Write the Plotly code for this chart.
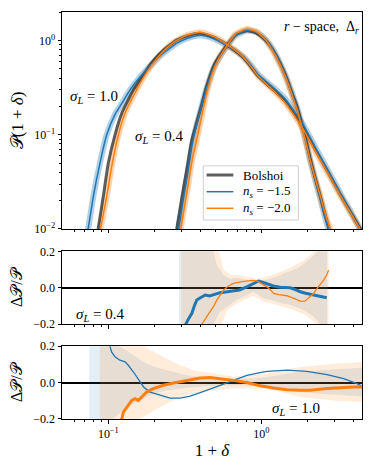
import plotly.graph_objects as go
from plotly.subplots import make_subplots

BLUE = '#1f77b4'
ORANGE = '#ff7f0e'
BOLSHOI = 'rgba(40,40,40,0.75)'
FONT = 'Liberation Serif'

# ---------------- top panel: P(1+delta) ----------------
# sigma_L = 1.0
x10_bol = [0.084, 0.086, 0.0927, 0.1, 0.1106, 0.1225, 0.146, 0.161, 0.178, 0.19, 0.218, 0.25, 0.2805,
           0.33, 0.399, 0.48, 0.596, 0.75, 0.826, 0.96, 1.2, 1.436, 1.65, 1.892, 2.3, 2.76, 3.3, 3.9, 4.6]
p10_bol = [0.0085, 0.0103, 0.0222, 0.0501, 0.100, 0.170, 0.300, 0.383, 0.49, 0.57, 0.735, 0.89, 1.016,
           1.13, 1.198, 1.10, 0.90, 0.68, 0.57, 0.415, 0.30, 0.225, 0.165, 0.118, 0.066, 0.039, 0.023,
           0.0145, 0.0091]

x10_n15 = [0.072, 0.074, 0.0798, 0.0882, 0.0976, 0.1106, 0.1225, 0.1387, 0.161, 0.19, 0.218, 0.25, 0.2805,
           0.33, 0.399, 0.48, 0.596, 0.75, 0.826, 0.96, 1.2, 1.436, 1.65, 1.892, 2.3, 2.76, 3.3, 3.9, 4.6]
p10_n15 = [0.0085, 0.0103, 0.0222, 0.0501, 0.100, 0.165, 0.215, 0.30, 0.41, 0.55, 0.69, 0.82, 0.94,
           1.06, 1.14, 1.06, 0.887, 0.69, 0.59, 0.434, 0.318, 0.24, 0.176, 0.1255, 0.0696, 0.0408, 0.0237,
           0.01465, 0.00896]

x10_n20 = [0.087, 0.0892, 0.0976, 0.1062, 0.1164, 0.1286, 0.153, 0.178, 0.197, 0.229, 0.267, 0.326, 0.399,
           0.48, 0.596, 0.75, 0.826, 0.96, 1.2, 1.436, 1.65, 1.892, 2.3, 2.76, 3.3, 3.9, 4.6]
p10_n20 = [0.0085, 0.0103, 0.0222, 0.0501, 0.100, 0.170, 0.300, 0.46, 0.58, 0.77, 0.96, 1.14, 1.225,
           1.12, 0.912, 0.687, 0.573, 0.415, 0.2955, 0.218, 0.159, 0.1135, 0.0635, 0.0377, 0.0224,
           0.01415, 0.0089]

# sigma_L = 0.4
x04 = [0.28, 0.295, 0.31, 0.33, 0.352, 0.375, 0.399, 0.44, 0.492, 0.525, 0.596, 0.68, 0.806, 0.93,
       1.062, 1.18, 1.298, 1.40, 1.51, 1.6, 1.713, 1.80, 1.95, 2.09, 2.25, 2.43, 2.6, 2.76, 2.9]
p04_bol = [0.0100, 0.0166, 0.027, 0.048, 0.0885, 0.129, 0.184, 0.33, 0.55, 0.66, 0.89, 1.15, 1.276, 1.20,
           1.017, 0.82, 0.624, 0.48, 0.353, 0.27, 0.20, 0.15, 0.092, 0.056, 0.035, 0.0222, 0.0145, 0.0103, 0.0075]
p04_n15 = [0.0075, 0.0125, 0.021, 0.038, 0.076, 0.12, 0.177, 0.317, 0.528, 0.637, 0.87, 1.13, 1.28, 1.225,
           1.037, 0.836, 0.624, 0.48, 0.353, 0.27, 0.196, 0.147, 0.089, 0.054, 0.0334, 0.0211, 0.0137,
           0.0097, 0.0071]
p04_n20 = [0.0055, 0.0092, 0.015, 0.027, 0.052, 0.082, 0.132, 0.28, 0.51, 0.637, 0.88, 1.18, 1.325, 1.245,
           1.027, 0.795, 0.60, 0.46, 0.337, 0.255, 0.186, 0.139, 0.0856, 0.0538, 0.035, 0.0226, 0.0152,
           0.0112, 0.0084]

# ---------------- middle panel: residuals, sigma_L = 0.4 ----------------
xr04_n15 = [0.31, 0.321, 0.335, 0.352, 0.365, 0.379, 0.40, 0.43, 0.46, 0.487, 0.51, 0.539, 0.60, 0.659,
            0.72, 0.806, 0.88, 0.96, 1.02, 1.09, 1.2, 1.331, 1.45, 1.549, 1.67, 1.80, 1.95, 2.094, 2.3, 2.5, 2.68]
r04_n15 = [-0.26, -0.2, -0.17, -0.14, -0.10, -0.067, -0.055, -0.040, -0.045, -0.040, -0.035, -0.027, -0.022,
           -0.018, -0.012, 0.005, 0.02, 0.037, 0.03, 0.02, 0.01, 0.003, 0.002, 0.0, -0.01, -0.022, -0.03,
           -0.036, -0.045, -0.052, -0.055]
xr04_n20 = [0.40, 0.409, 0.435, 0.464, 0.49, 0.513, 0.54, 0.567, 0.61, 0.659, 0.73, 0.806, 0.87, 0.937,
            1.0, 1.09, 1.15, 1.205, 1.3, 1.474, 1.65, 1.80, 1.92, 2.04, 2.18, 2.32, 2.45, 2.56, 2.68, 2.76]
r04_n20 = [-0.24, -0.2, -0.165, -0.131, -0.10, -0.067, -0.04, -0.013, 0.01, 0.024, 0.032, 0.038, 0.040,
           0.038, 0.025, 0.005, -0.012, -0.031, -0.038, -0.044, -0.06, -0.073, -0.075, -0.058, -0.035,
           -0.003, 0.02, 0.042, 0.07, 0.097]

# error bands (upper / lower edges)
b04_n15_xu = [0.29, 0.45, 0.487, 0.513, 0.567, 0.627, 0.693, 0.806, 0.937, 1.035, 1.145, 1.267, 1.40,
              1.549, 1.713, 1.89, 2.094, 2.43, 2.7]
b04_n15_u = [0.6, 0.4, 0.2, 0.124, 0.070, 0.051, 0.055, 0.042, 0.033, 0.04, 0.05, 0.06, 0.079,
             0.09, 0.106, 0.13, 0.161, 0.216, 0.3]
b04_n15_xl = [0.29, 0.45, 0.487, 0.539, 0.596, 0.693, 0.806, 0.89, 1.035, 1.267, 1.549, 1.89, 2.2, 2.43, 2.7]
b04_n15_l = [-0.6, -0.35, -0.2, -0.131, -0.104, -0.067, -0.040, -0.022, -0.058, -0.077, -0.095, -0.122,
             -0.159, -0.2, -0.3]
b04_n20_xu = [0.30, 0.5, 0.53, 0.567, 0.627, 0.693, 0.806, 0.937, 1.035, 1.267, 1.549, 1.89, 2.094, 2.3, 2.76]
b04_n20_u = [0.6, 0.4, 0.2, 0.10, 0.072, 0.07, 0.06, 0.05, 0.055, 0.08, 0.11, 0.15, 0.18, 0.22, 0.35]
b04_n20_xl = [0.30, 0.5, 0.55, 0.596, 0.693, 0.806, 0.89, 1.035, 1.267, 1.549, 1.89, 2.094, 2.3, 2.76]
b04_n20_l = [-0.6, -0.3, -0.2, -0.125, -0.085, -0.06, -0.045, -0.075, -0.095, -0.115, -0.145, -0.17,
             -0.2, -0.35]

# ---------------- bottom panel: residuals, sigma_L = 1.0 ----------------
xr10_n15 = [0.098, 0.1026, 0.105, 0.1106, 0.119, 0.1286, 0.135, 0.146, 0.153, 0.161, 0.170, 0.1875,
            0.218, 0.2535, 0.295, 0.343, 0.399, 0.464, 0.539, 0.60, 0.659, 0.806, 0.985, 1.09, 1.474,
            1.99, 2.69, 3.46, 4.23, 4.55]
r10_n15 = [0.26, 0.2, 0.168, 0.141, 0.123, 0.114, 0.095, 0.058, 0.031, 0.003, -0.024, -0.052, -0.070,
           -0.085, -0.085, -0.074, -0.055, -0.037, -0.015, 0.0, 0.012, 0.04, 0.055, 0.062, 0.068,
           0.062, 0.044, 0.022, -0.006, -0.02]
xr10_n20 = [0.118, 0.1225, 0.1254, 0.1319, 0.1423, 0.1496, 0.157, 0.1655, 0.178, 0.197, 0.229, 0.267,
            0.326, 0.399, 0.464, 0.539, 0.659, 0.806, 0.985, 1.2, 1.474, 1.8, 2.09, 2.69, 3.46, 4.0, 4.56]
r10_n20 = [-0.24, -0.2, -0.162, -0.134, -0.098, -0.088, -0.098, -0.079, -0.052, -0.033, -0.015, -0.002,
           0.013, 0.025, 0.028, 0.022, 0.012, 0.0, -0.018, -0.03, -0.039, -0.042, -0.042, -0.033,
           -0.026, -0.024, -0.024]

b10_n15_xu = [0.075, 0.119, 0.146, 0.178, 0.218, 0.267, 0.326, 0.399, 0.487, 0.659, 0.89, 1.09, 1.474,
              1.99, 2.69, 3.64, 4.6]
b10_n15_u = [0.6, 0.2, 0.150, 0.104, 0.077, 0.058, 0.040, 0.031, 0.027, 0.022, 0.022, 0.031, 0.049,
             0.064, 0.071, 0.077, 0.082]
b10_n15_xl = [0.075, 0.107, 0.1319, 0.161, 0.197, 0.241, 0.326, 0.441, 0.659, 0.985, 1.331, 1.80, 2.43,
              3.29, 4.6]
b10_n15_l = [-0.6, -0.2, -0.134, -0.098, -0.061, -0.043, -0.028, -0.020, -0.015, -0.020, -0.033, -0.052,
             -0.061, -0.070, -0.076]
b10_n20_xu = [0.088, 0.170, 0.218, 0.28, 0.36, 0.487, 0.659, 1.09, 1.80, 2.97, 4.6]
b10_n20_u = [0.6, 0.2, 0.15, 0.104, 0.067, 0.049, 0.034, 0.049, 0.086, 0.104, 0.113]
b10_n20_xl = [0.088, 0.161, 0.218, 0.295, 0.399, 0.659, 1.09, 1.80, 2.97, 4.6]
b10_n20_l = [-0.6, -0.2, -0.134, -0.079, -0.052, -0.033, -0.033, -0.079, -0.098, -0.107]

legend_labels = ['Bolshoi', '<i>n<sub>s</sub></i> = −1.5', '<i>n<sub>s</sub></i> = −2.0']


def band(xu, yu, xl, yl, color, row):
    fig.add_trace(go.Scatter(x=xu + xl[::-1], y=yu + yl[::-1], fill='toself', fillcolor=color,
                             line=dict(width=0), mode='lines', showlegend=False, hoverinfo='skip'),
                  row=row, col=1)


def curve(xs, ys, color, width, row, shape='linear'):
    fig.add_trace(go.Scatter(x=xs, y=ys, mode='lines', showlegend=False,
                             line=dict(color=color, width=width, shape=shape, smoothing=0.5)),
                  row=row, col=1)


fig = make_subplots(rows=3, cols=1)

# top panel: shaded bands, then Bolshoi, then the n_s lines
curve(x10_n15, p10_n15, 'rgba(31,119,180,0.35)', 6, 1, 'spline')
curve(x04, p04_n15, 'rgba(31,119,180,0.35)', 6, 1, 'spline')
curve(x10_n20, p10_n20, 'rgba(255,127,14,0.35)', 6, 1, 'spline')
curve(x04, p04_n20, 'rgba(255,127,14,0.35)', 6, 1, 'spline')
curve(x10_bol, p10_bol, BOLSHOI, 3, 1, 'spline')
curve(x04, p04_bol, BOLSHOI, 3, 1, 'spline')
curve(x10_n15, p10_n15, BLUE, 1.5, 1, 'spline')
curve(x04, p04_n15, BLUE, 1.5, 1, 'spline')
curve(x10_n20, p10_n20, ORANGE, 1.5, 1, 'spline')
curve(x04, p04_n20, ORANGE, 1.5, 1, 'spline')

# middle panel
band(b04_n15_xu, b04_n15_u, b04_n15_xl, b04_n15_l, 'rgba(31,119,180,0.12)', 2)
band(b04_n20_xu, b04_n20_u, b04_n20_xl, b04_n20_l, 'rgba(255,127,14,0.15)', 2)
curve(xr04_n15, r04_n15, BLUE, 3, 2)
curve(xr04_n20, r04_n20, ORANGE, 1.3, 2)

# bottom panel
band(b10_n15_xu, b10_n15_u, b10_n15_xl, b10_n15_l, 'rgba(31,119,180,0.12)', 3)
band(b10_n20_xu, b10_n20_u, b10_n20_xl, b10_n20_l, 'rgba(255,127,14,0.15)', 3)
curve(xr10_n15, r10_n15, BLUE, 1.3, 3)
curve(xr10_n20, r10_n20, ORANGE, 3, 3)

minor_x = [0.06, 0.07, 0.08, 0.09, 0.2, 0.3, 0.4, 0.5, 0.6, 0.7, 0.8, 0.9, 2, 3, 4]
xaxis_style = dict(type='log', range=[-1.303, 0.659], showline=True, linecolor='black', linewidth=1,
                   mirror=True, ticks='outside', ticklen=3.5, tickcolor='black', showgrid=False,
                   automargin=False,
                   tickvals=[0.1, 1], ticktext=['10<sup>−1</sup>', '10<sup>0</sup>'],
                   minor=dict(tickvals=minor_x, ticks='outside', ticklen=2, tickcolor='black', showgrid=False),
                   tickfont=dict(size=12, family=FONT, color='black'))
for r in (1, 2, 3):
    fig.update_xaxes(**xaxis_style, showticklabels=(r == 3), row=r, col=1)
fig.update_xaxes(title=dict(text='1 + <i>δ</i>', font=dict(size=17, family=FONT, color='black'), standoff=4),
                 row=3, col=1)

minor_y = [0.02, 0.03, 0.04, 0.05, 0.06, 0.07, 0.08, 0.09, 0.2, 0.3, 0.4, 0.5, 0.6, 0.7, 0.8, 0.9, 2]
fig.update_yaxes(type='log', range=[-2, 0.304], showline=True, linecolor='black', linewidth=1, mirror=True,
                 ticks='outside', ticklen=3.5, tickcolor='black', showgrid=False, automargin=False,
                 tickvals=[0.01, 0.1, 1], ticktext=['10<sup>−2</sup>', '10<sup>−1</sup>', '10<sup>0</sup>'],
                 minor=dict(tickvals=minor_y, ticks='outside', ticklen=2, tickcolor='black', showgrid=False),
                 tickfont=dict(size=12, family=FONT, color='black'),
                 title=dict(text='𝒫(1 + <i>δ</i>)', font=dict(size=17, family=FONT, color='black'), standoff=8),
                 domain=[0.467, 1.0], row=1, col=1)
for r, dom in ((2, [0.233, 0.412]), (3, [0.0, 0.179])):
    fig.update_yaxes(range=[-0.2, 0.2], showline=True, linecolor='black', linewidth=1, mirror=True,
                     ticks='outside', ticklen=3.5, tickcolor='black', showgrid=False, automargin=False,
                     tickvals=[-0.2, 0.0, 0.2], tickformat='.1f',
                     zeroline=True, zerolinecolor='black', zerolinewidth=1.5,
                     tickfont=dict(size=12, family=FONT, color='black'),
                     title=dict(text='Δ𝒫/𝒫', font=dict(size=16, family=FONT, color='black'), standoff=8),
                     domain=dom, row=r, col=1)

# legend drawn by hand so that its size matches the reference
shapes = [dict(type='rect', xref='paper', yref='paper', x0=0.471, x1=0.788, y0=0.489, y1=0.622,
               line=dict(color='#d0d0d0', width=1), fillcolor='rgba(255,255,255,0.85)', layer='above')]
legend_y = [0.5995, 0.5585, 0.5177]
legend_style = [(BOLSHOI, 3), (BLUE, 1.5), (ORANGE, 1.5)]
annotations = []
for yl, (c, w), lab in zip(legend_y, legend_style, legend_labels):
    shapes.append(dict(type='line', xref='paper', yref='paper', x0=0.482, x1=0.571, y0=yl, y1=yl,
                       line=dict(color=c, width=w), layer='above'))
    annotations.append(dict(text=lab, xref='paper', yref='paper', x=0.597, y=yl, xanchor='left',
                            yanchor='middle', showarrow=False, font=dict(size=13, family=FONT, color='black')))

ann_font = dict(size=15, family=FONT, color='black')
annotations += [
    dict(text='<i>r</i> − space,  Δ<sub><i>r</i></sub>', xref='paper', yref='paper', x=0.995, y=0.963,
         xanchor='right', yanchor='middle', showarrow=False, font=dict(size=14, family=FONT, color='black')),
    dict(text='<i>σ<sub>L</sub></i> = 1.0', xref='paper', yref='paper', x=0.02, y=0.791,
         xanchor='left', yanchor='middle', showarrow=False, font=ann_font),
    dict(text='<i>σ<sub>L</sub></i> = 0.4', xref='paper', yref='paper', x=0.237, y=0.693,
         xanchor='left', yanchor='middle', showarrow=False, font=ann_font),
    dict(text='<i>σ<sub>L</sub></i> = 0.4', xref='paper', yref='paper', x=0.04, y=0.256,
         xanchor='left', yanchor='middle', showarrow=False, font=ann_font),
    dict(text='<i>σ<sub>L</sub></i> = 1.0', xref='paper', yref='paper', x=0.693, y=0.024,
         xanchor='left', yanchor='middle', showarrow=False, font=ann_font),
]

# the page body adds an 8 px margin, so the figure is made 8 px smaller on each side
fig.update_layout(
    width=366, height=459,
    margin=dict(l=54, r=12, t=4, b=48, autoexpand=False),
    plot_bgcolor='white', paper_bgcolor='white',
    font=dict(family=FONT, color='black'),
    showlegend=False,
    shapes=shapes,
    annotations=annotations,
)

fig.write_html("out.html")
